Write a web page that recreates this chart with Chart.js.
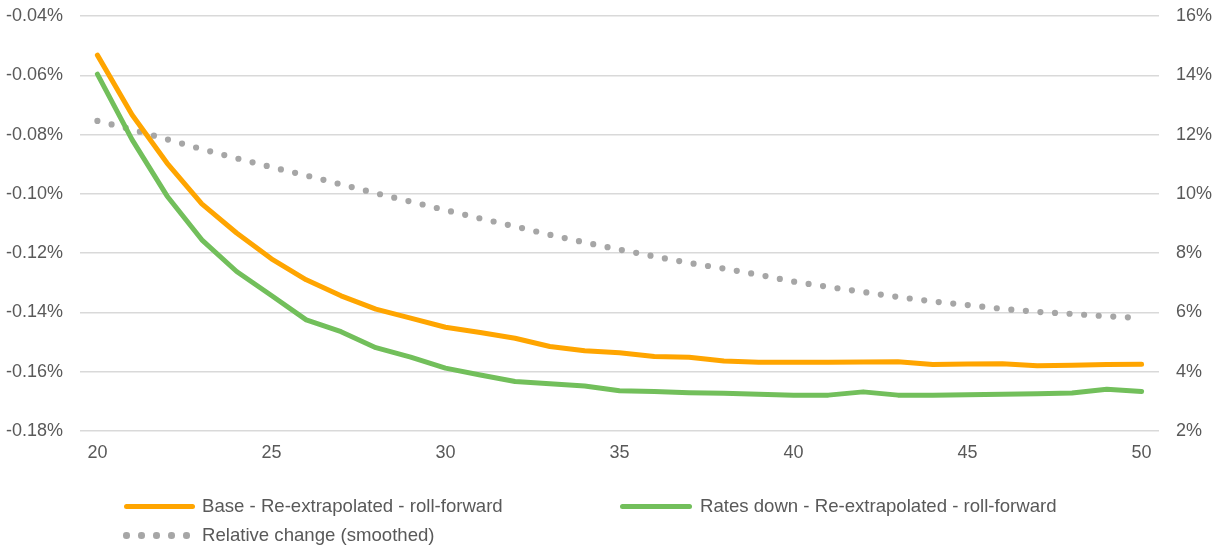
<!DOCTYPE html>
<html>
<head>
<meta charset="utf-8">
<script src="https://cdn.jsdelivr.net/npm/chart.js@4"></script>
<style>
  html, body { margin: 0; padding: 0; background: #ffffff; }
  #wrap { position: relative; width: 1221px; height: 547px; font-family: "Liberation Sans", Arial, sans-serif; }
  canvas { position: absolute; left: 0; top: 0; }
  .lg-item { position: absolute; height: 22px; display: flex; align-items: center; color: #595959; font-size: 18.6px; white-space: nowrap; }
  .lg-line { position: absolute; height: 5px; border-radius: 3px; }
  .lg-dot { position: absolute; width: 6.5px; height: 6.5px; border-radius: 50%; background: #a6a6a6; }
</style>
</head>
<body>
<div id="wrap">
  <canvas id="c" width="1221" height="547"></canvas>
</div>
<script>
// Age axis (categories)
const ages = ['20','21','22','23','24','25','26','27','28','29','30','31','32','33','34','35',
              '36','37','38','39','40','41','42','43','44','45','46','47','48','49','50'];

// Left axis series, in percent
const baseRollForward = [-0.0532, -0.0734, -0.0896, -0.1034, -0.1132, -0.1219, -0.1290, -0.1344,
  -0.1389, -0.1419, -0.1450, -0.1468, -0.1487, -0.1515, -0.1529, -0.1536, -0.1549, -0.1551,
  -0.1564, -0.1568, -0.1568, -0.1568, -0.1567, -0.1566, -0.1576, -0.1574, -0.1573, -0.1580,
  -0.1578, -0.1576, -0.1575];
const ratesDownRollForward = [-0.0596, -0.0818, -0.1007, -0.1155, -0.1262, -0.1343, -0.1425, -0.1465,
  -0.1519, -0.1551, -0.1588, -0.1611, -0.1633, -0.1641, -0.1648, -0.1664, -0.1667, -0.1671,
  -0.1673, -0.1676, -0.1679, -0.1679, -0.1668, -0.1679, -0.1679, -0.1678, -0.1676, -0.1674,
  -0.1672, -0.1659, -0.1667];

// Right axis series, in percent
const relativeChange = [12.46, 12.17, 11.84, 11.51, 11.20, 10.90, 10.62, 10.32, 10.02, 9.74,
  9.45, 9.17, 8.90, 8.62, 8.36, 8.12, 7.89, 7.67, 7.48, 7.27, 7.04, 6.86, 6.69, 6.52, 6.37,
  6.25, 6.12, 6.02, 5.95, 5.87, 5.81];

// Axis ranges and tick steps
const leftMin = -0.18, leftMax = -0.04, leftStep = 0.02;
const rightMin = 2, rightMax = 16, rightStep = 2;
const xLabelEvery = 5;

const seriesNames = ['Base - Re-extrapolated - roll-forward',
                     'Rates down - Re-extrapolated - roll-forward',
                     'Relative change (smoothed)'];

const ORANGE = '#ffa500';
const GREEN = '#72bf5b';
const GREY = '#a6a6a6';
const TEXT = '#595959';
const GRID = '#d9d9d9';
const FONT = { family: '"Liberation Sans", Arial, sans-serif', size: 18 };

// Vertical axes: fixed width, no extra padding above/below the plot
function fitVertical(width) {
  return s => { s.width = width; s.paddingTop = 0; s.paddingBottom = 0; };
}

new Chart(document.getElementById('c'), {
  type: 'line',
  data: {
    labels: ages,
    datasets: [
      { label: seriesNames[0], data: baseRollForward, yAxisID: 'yL',
        borderColor: ORANGE, borderWidth: 5, pointRadius: 0, tension: 0,
        borderJoinStyle: 'round', borderCapStyle: 'round' },
      { label: seriesNames[1], data: ratesDownRollForward, yAxisID: 'yL',
        borderColor: GREEN, borderWidth: 5, pointRadius: 0, tension: 0,
        borderJoinStyle: 'round', borderCapStyle: 'round' },
      { label: seriesNames[2], data: relativeChange, yAxisID: 'yR',
        borderColor: GREY, borderWidth: 6.2, pointRadius: 0, tension: 0,
        borderDash: [0, 14.6], borderCapStyle: 'round', borderJoinStyle: 'round' }
    ]
  },
  options: {
    responsive: false,
    animation: false,
    devicePixelRatio: 1,
    layout: { padding: { top: 16, left: 0, right: 0, bottom: 0 } },
    plugins: { legend: { display: false }, tooltip: { enabled: false } },
    scales: {
      x: {
        type: 'category',
        offset: true,
        grid: { display: false, drawTicks: false },
        border: { display: false },
        ticks: {
          autoSkip: false, maxRotation: 0, padding: 11, color: TEXT, font: FONT,
          callback: function (v) {
            const lab = this.getLabelForValue(v);
            return (parseInt(lab, 10) % xLabelEvery === 0) ? lab : '';
          }
        },
        afterFit: s => { s.height = 116; s.paddingLeft = 0; s.paddingRight = 0; }
      },
      yL: {
        position: 'left',
        min: leftMin, max: leftMax,
        grid: { color: GRID, lineWidth: 1.5, drawTicks: false },
        border: { display: false },
        ticks: {
          stepSize: leftStep, padding: 17, color: TEXT, font: FONT,
          callback: v => v.toFixed(2) + '%'
        },
        afterFit: fitVertical(80)
      },
      yR: {
        position: 'right',
        min: rightMin, max: rightMax,
        grid: { display: false, drawTicks: false },
        border: { display: false },
        ticks: {
          stepSize: rightStep, padding: 17, color: TEXT, font: FONT,
          callback: v => Math.round(v) + '%'
        },
        afterFit: fitVertical(62)
      }
    }
  }
});

// Legend below the plot
const wrap = document.getElementById('wrap');
function addItem(left, centerY, text) {
  const d = document.createElement('div');
  d.className = 'lg-item';
  d.style.left = left + 'px';
  d.style.top = (centerY - 11) + 'px';
  d.textContent = text;
  wrap.appendChild(d);
}
function addLine(left, width, centerY, color) {
  const d = document.createElement('div');
  d.className = 'lg-line';
  d.style.left = left + 'px';
  d.style.width = width + 'px';
  d.style.top = (centerY - 2.5) + 'px';
  d.style.background = color;
  wrap.appendChild(d);
}
function addDots(left, centerY, count, gap) {
  for (let i = 0; i < count; i++) {
    const d = document.createElement('div');
    d.className = 'lg-dot';
    d.style.left = (left + i * gap - 3) + 'px';
    d.style.top = (centerY - 3) + 'px';
    wrap.appendChild(d);
  }
}
addLine(124, 71, 506, ORANGE);
addItem(202, 506, seriesNames[0]);
addLine(620, 72, 506, GREEN);
addItem(700, 506, seriesNames[1]);
addDots(126, 535, 5, 15);
addItem(202, 535, seriesNames[2]);
</script>
</body>
</html>
